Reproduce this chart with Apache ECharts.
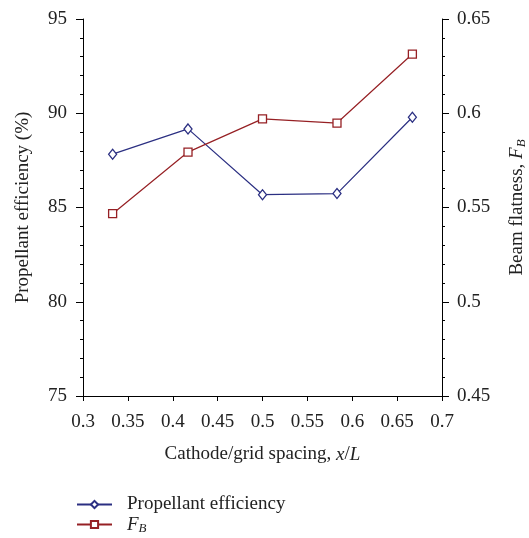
<!DOCTYPE html>
<html>
<head>
<meta charset="utf-8">
<script src="https://cdn.jsdelivr.net/npm/echarts@6/dist/echarts.min.js"></script>
<style>
  html, body { margin: 0; padding: 0; background: #fff; }
  #chart { width: 529px; height: 538px; }
</style>
</head>
<body>
<div id="chart"></div>
<script>
// Cathode/grid spacing x/L
const spacing = [0.333, 0.417, 0.5, 0.583, 0.667];
// Propellant efficiency (%)
const efficiency = [87.83, 89.17, 85.68, 85.74, 89.79];
// Beam flatness F_B
const flatness = [0.5467, 0.5794, 0.597, 0.5948, 0.6314];

const BLUE = '#2b2f82';
const RED = '#962024';
const FONT = '"Liberation Serif", "DejaVu Serif", serif';
const TXT = '#222';
const FS = 19;

const richF = {
  i: { fontFamily: FONT, fontStyle: 'italic', fontSize: FS, color: TXT },
  s: { fontFamily: FONT, fontStyle: 'italic', fontSize: 13, color: TXT, verticalAlign: 'bottom', padding: [9, 0, 0, 0] }
};

const chart = echarts.init(document.getElementById('chart'), null, { renderer: 'canvas' });

const pairs = (ys) => spacing.map((x, i) => [x, ys[i]]);

chart.setOption({
  animation: false,
  backgroundColor: '#fff',
  textStyle: { fontFamily: FONT, color: TXT },
  grid: { left: 83, right: 87, top: 19, bottom: 142, containLabel: false, outerBoundsMode: 'none' },
  legend: {
    orient: 'vertical',
    left: 76,
    top: 495,
    height: 60,
    padding: 0,
    itemWidth: 35,
    itemHeight: 9,
    itemGap: 1,
    textStyle: {
      fontFamily: FONT, fontSize: FS, color: TXT,
      padding: [0, 0, 0, 10],
      rich: richF
    },
    formatter: (name) => name === 'FB' ? '{i|F}{s|B}' : name,
    data: ['Propellant efficiency', 'FB']
  },
  xAxis: {
    type: 'value',
    min: 0.3, max: 0.7, interval: 0.05,
    name: 'Cathode/grid spacing, {i|x}/{i|L}',
    nameLocation: 'middle',
    nameGap: 49,
    nameTextStyle: { fontFamily: FONT, fontSize: FS, color: TXT, rich: richF },
    axisLine: { show: true, onZero: false, lineStyle: { color: '#000', width: 1 } },
    axisTick: { show: true, inside: false, length: 5, lineStyle: { color: '#000' } },
    axisLabel: { fontFamily: FONT, fontSize: FS, color: TXT, margin: 17 },
    splitLine: { show: false }
  },
  yAxis: [
    {
      type: 'value',
      position: 'left',
      min: 75, max: 95, interval: 5,
      name: 'Propellant efficiency (%)',
      nameLocation: 'middle',
      nameRotate: 90,
      nameGap: 50,
      nameTextStyle: { fontFamily: FONT, fontSize: FS, color: TXT },
      axisLine: { show: true, lineStyle: { color: '#000', width: 1 } },
      axisTick: { show: true, length: 7, lineStyle: { color: '#000' } },
      minorTick: { show: true, splitNumber: 5, length: 3, lineStyle: { color: '#000' } },
      axisLabel: { fontFamily: FONT, fontSize: FS, color: TXT, margin: 16 },
      splitLine: { show: false }
    },
    {
      type: 'value',
      position: 'right',
      min: 0.45, max: 0.65, interval: 0.05,
      name: 'Beam flatness, {i|F}{s|B}',
      nameLocation: 'middle',
      nameRotate: 90,
      nameGap: 64,
      nameTextStyle: { fontFamily: FONT, fontSize: FS, color: TXT, rich: richF },
      axisLine: { show: true, lineStyle: { color: '#000', width: 1 } },
      axisTick: { show: true, length: 7, lineStyle: { color: '#000' } },
      minorTick: { show: true, splitNumber: 5, length: 3, lineStyle: { color: '#000' } },
      axisLabel: { fontFamily: FONT, fontSize: FS, color: TXT, margin: 15 },
      splitLine: { show: false }
    }
  ],
  series: [
    {
      name: 'Propellant efficiency',
      type: 'line',
      yAxisIndex: 0,
      data: pairs(efficiency),
      symbol: 'diamond',
      symbolSize: [8, 10],
      showAllSymbol: true,
      lineStyle: { color: BLUE, width: 1.2 },
      itemStyle: { color: '#fff', borderColor: BLUE, borderWidth: 1.3 }
    },
    {
      name: 'FB',
      type: 'line',
      yAxisIndex: 1,
      data: pairs(flatness),
      symbol: 'rect',
      symbolSize: 8,
      showAllSymbol: true,
      lineStyle: { color: RED, width: 1.2 },
      itemStyle: { color: '#fff', borderColor: RED, borderWidth: 1.3 }
    }
  ]
});
</script>
</body>
</html>
